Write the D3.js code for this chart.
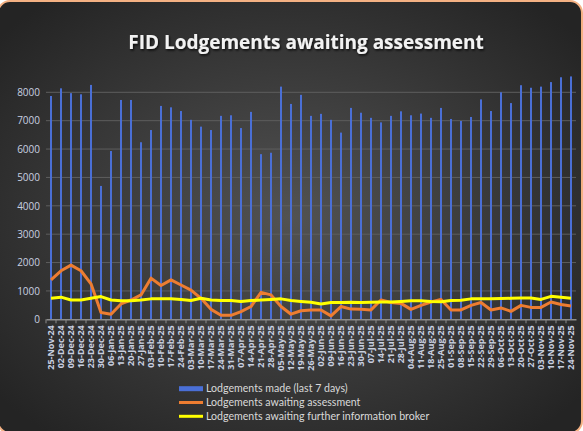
<!DOCTYPE html>
<html lang="en">
<head>
  <meta charset="UTF-8">
  <title>FID Lodgements awaiting assessment</title>
  <script src="https://d3js.org/d3.v7.min.js"></script>
</head>
<body style="margin: 0; overflow: hidden; background: #fff;">

<script>
  //Week labels (category axis)
  const weeks = ['25-Nov-24', '02-Dec-24', '09-Dec-24', '16-Dec-24', '23-Dec-24', '30-Dec-24',
    '06-Jan-25', '13-Jan-25', '20-Jan-25', '27-Jan-25', '03-Feb-25', '10-Feb-25', '17-Feb-25',
    '24-Feb-25', '03-Mar-25', '10-Mar-25', '17-Mar-25', '24-Mar-25', '31-Mar-25', '07-Apr-25',
    '14-Apr-25', '21-Apr-25', '28-Apr-25', '05-May-25', '12-May-25', '19-May-25', '26-May-25',
    '02-Jun-25', '09-Jun-25', '16-Jun-25', '23-Jun-25', '30-Jun-25', '07-Jul-25', '14-Jul-25',
    '21-Jul-25', '28-Jul-25', '04-Aug-25', '11-Aug-25', '18-Aug-25', '25-Aug-25', '01-Sep-25',
    '08-Sep-25', '15-Sep-25', '22-Sep-25', '29-Sep-25', '06-Oct-25', '13-Oct-25', '20-Oct-25',
    '27-Oct-25', '03-Nov-25', '10-Nov-25', '17-Nov-25', '24-Nov-25'];

  //Lodgements made (last 7 days)
  const lodgementsMade = [7870, 8140, 7970, 7930, 8260, 4700, 5930, 7730, 7730, 6240,
    6670, 7520, 7470, 7340, 7030, 6790, 6670, 7170, 7190, 6740,
    7310, 5820, 5870, 8200, 7590, 7910, 7170, 7240, 7030, 6580,
    7450, 7280, 7100, 6940, 7170, 7330, 7190, 7250, 7100, 7450,
    7060, 6990, 7130, 7750, 7340, 8000, 7620, 8250, 8160, 8200,
    8360, 8530, 8560];

  //Lodgements awaiting assessment
  const awaitingAssessment = [1390, 1710, 1910, 1710, 1250, 240, 180, 540, 680, 860,
    1450, 1190, 1390, 1210, 1030, 740, 350, 140, 140, 270,
    450, 950, 860, 450, 180, 300, 330, 330, 120, 450,
    360, 350, 330, 680, 590, 560, 350, 490, 610, 700,
    330, 330, 490, 590, 330, 400, 280, 490, 420, 420,
    610, 520, 470];

  //Lodgements awaiting further information broker
  const awaitingBroker = [740, 780, 680, 680, 740, 800, 680, 650, 650, 680,
    720, 720, 720, 700, 660, 740, 680, 660, 660, 630,
    660, 680, 700, 720, 660, 630, 600, 540, 590, 590,
    600, 590, 600, 610, 610, 630, 650, 650, 630, 620,
    660, 670, 720, 720, 720, 730, 740, 750, 750, 700,
    810, 780, 740];

  const yTicks = [0, 1000, 2000, 3000, 4000, 5000, 6000, 7000, 8000];

  const legendItems = [
    { label: 'Lodgements made (last 7 days)', color: '#4a6fd6', kind: 'bar' },
    { label: 'Lodgements awaiting assessment', color: '#ed7d31', kind: 'line' },
    { label: 'Lodgements awaiting further information broker', color: '#ffff00', kind: 'line' }
  ];

  const width = 583, height = 431;

  const svg = d3.select('body').append('svg')
    .attr('width', width)
    .attr('height', height);

  const defs = svg.append('defs');

  //Dark radial background
  const grad = defs.append('radialGradient')
    .attr('id', 'bg')
    .attr('cx', '50%').attr('cy', '50%').attr('r', '65%');
  grad.append('stop').attr('offset', '0%').attr('stop-color', '#525252');
  grad.append('stop').attr('offset', '100%').attr('stop-color', '#242424');

  const shadow = defs.append('filter').attr('id', 'shadow');
  shadow.append('feDropShadow')
    .attr('dx', 1).attr('dy', 1.5).attr('stdDeviation', 1)
    .attr('flood-color', '#000').attr('flood-opacity', 0.8);

  svg.append('rect')
    .attr('x', -2).attr('y', 1)
    .attr('width', 584).attr('height', 432)
    .attr('rx', 12)
    .attr('fill', 'url(#bg)')
    .attr('stroke', '#f4b183')
    .attr('stroke-width', 2);

  //Title
  svg.append('text')
    .attr('x', 306)
    .attr('y', 49)
    .attr('text-anchor', 'middle')
    .attr('font-size', 19)
    .attr('font-weight', 'bold')
    .style('font-family', '"Open Sans", sans-serif')
    .attr('fill', '#f2f2f2')
    .attr('filter', 'url(#shadow)')
    .text('FID Lodgements awaiting assessment');

  //Scales
  const x = d3.scaleBand()
    .domain(weeks)
    .range([46, 576]);

  const y = d3.scaleLinear()
    .domain([0, 8000])
    .range([319.3, 92.3]);

  const cx = d => x(d) + x.bandwidth() / 2;

  //Gridlines
  svg.append('g')
    .selectAll('line')
    .data(yTicks.slice(1))
    .join('line')
    .attr('x1', 46).attr('x2', 576)
    .attr('y1', d => y(d)).attr('y2', d => y(d))
    .attr('stroke', '#5e5e5e')
    .attr('stroke-width', 1);

  //Y axis
  const yAxis = svg.append('g')
    .attr('transform', 'translate(46,0)')
    .call(d3.axisLeft(y).tickValues(yTicks).tickSize(0).tickPadding(6).tickFormat(d3.format('d')));
  yAxis.select('.domain').remove();
  yAxis.selectAll('text')
    .attr('fill', '#c9d0e0')
    .attr('font-size', 10)
    .style('font-family', '"Open Sans", sans-serif');

  //Bars
  svg.append('g')
    .selectAll('rect')
    .data(weeks)
    .join('rect')
    .attr('x', d => cx(d) - 1)
    .attr('width', 2)
    .attr('y', (d, i) => y(lodgementsMade[i]))
    .attr('height', (d, i) => y(0) - y(lodgementsMade[i]))
    .attr('fill', '#4a6fd6');

  //X axis
  const xAxis = svg.append('g')
    .attr('transform', `translate(0,${y(0)})`)
    .call(d3.axisBottom(x).tickSize(0).tickPadding(6));
  xAxis.select('.domain').attr('stroke', '#8c8c8c').attr('stroke-width', 1.5);
  xAxis.selectAll('text')
    .attr('fill', '#c9d0e0')
    .attr('font-size', 9)
    .attr('font-weight', 'bold')
    .style('font-family', '"Open Sans", sans-serif')
    .attr('transform', 'rotate(-90)')
    .attr('text-anchor', 'end')
    .attr('x', -6)
    .attr('y', 0)
    .attr('dy', '0.35em');

  //Tick marks between categories
  svg.append('g')
    .selectAll('line')
    .data(weeks)
    .join('line')
    .attr('x1', d => x(d)).attr('x2', d => x(d))
    .attr('y1', y(0)).attr('y2', y(0) + 4)
    .attr('stroke', '#8c8c8c');

  //Lines
  const line = d3.line()
    .x((d, i) => cx(weeks[i]))
    .y(d => y(d));

  svg.append('path')
    .datum(awaitingAssessment)
    .attr('d', line)
    .attr('fill', 'none')
    .attr('stroke', '#ed7d31')
    .attr('stroke-width', 3)
    .attr('stroke-linejoin', 'round');

  svg.append('path')
    .datum(awaitingBroker)
    .attr('d', line)
    .attr('fill', 'none')
    .attr('stroke', '#ffff00')
    .attr('stroke-width', 3)
    .attr('stroke-linejoin', 'round');

  //Legend
  const legend = svg.append('g')
    .selectAll('g')
    .data(legendItems)
    .join('g')
    .attr('transform', (d, i) => `translate(179,${388.7 + i * 13.8})`);

  legend.each(function(d) {
    const g = d3.select(this);
    if (d.kind === 'bar') {
      g.append('rect').attr('x', 0).attr('y', -2.5).attr('width', 24).attr('height', 5).attr('fill', d.color);
    } else {
      g.append('line').attr('x1', 0).attr('x2', 24).attr('y1', 0).attr('y2', 0)
        .attr('stroke', d.color).attr('stroke-width', 3);
    }
  });

  legend.append('text')
    .attr('x', 27)
    .attr('dy', '0.35em')
    .attr('fill', '#d9d9d9')
    .attr('font-size', 10.6)
    .style('font-family', 'Lato, sans-serif')
    .text(d => d.label);
</script>

</body>
</html>
